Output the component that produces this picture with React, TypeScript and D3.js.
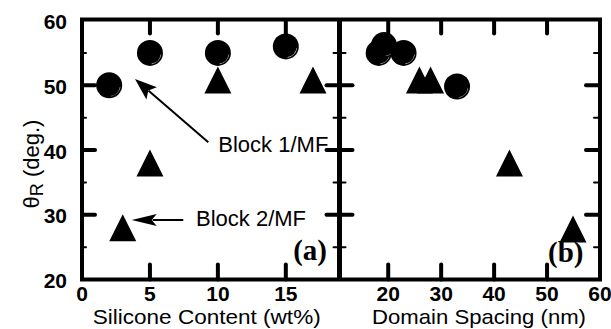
import React from "react";
import * as d3 from "d3";

// ---- data ----
const silCircleX = [2, 5, 10, 15];
const silCircleY = [50, 55, 55, 56];
const silTriX = [3, 5, 10, 17];
const silTriY = [28, 38, 50.8, 50.8];

const spCircleX = [18.2, 19.2, 22.9, 33];
const spCircleY = [55, 56.2, 55, 49.8];
const spTriX = [25.9, 28, 42.9, 54.9];
const spTriY = [50.8, 50.8, 38, 27.8];

const yMajor = [30, 40, 50];
const yMinor = [25, 35, 45, 55];
const yLabels = [20, 30, 40, 50, 60];
const aTicks = [5, 10, 15];
const aLabels = [0, 5, 10, 15];
const bTicks = [20, 30, 40, 50];
const bLabels = [20, 30, 40, 50, 60];

const W = 611, H = 329;
const LEFT = 82, MID = 339.5, RIGHT = 600, TOP = 20.5, BOTTOM = 279.5;

const y = d3.scaleLinear().domain([20, 60]).range([BOTTOM, TOP]);
const xa = d3.scaleLinear().domain([0, 18.95]).range([LEFT, MID]);
const xb = d3.scaleLinear().domain([10.8, 60]).range([MID, RIGHT]);

const sans = "'Liberation Sans', Arial, Helvetica, sans-serif";
const serif = "'Liberation Serif', 'Times New Roman', serif";

const R = 13;
const T = 27;
const triPath = (cx: number, cy: number) =>
  `M${cx},${cy - T / 2}L${cx + T / 2},${cy + T / 2}L${cx - T / 2},${cy + T / 2}Z`;

const Circle = ({ cx, cy }: { cx: number; cy: number }) => {
  const arc = d3.arc()({
    innerRadius: R - 2.2,
    outerRadius: R - 1.6,
    startAngle: Math.PI * 0.55,
    endAngle: Math.PI * 0.95,
  } as any) as string;
  return (
    <g>
      <circle cx={cx} cy={cy} r={R} fill="#000" />
      <path d={arc} transform={`translate(${cx},${cy})`} fill="#bbb" />
    </g>
  );
};

const MAJ = 13, MIN = 5;

function Arrow({ x1, y1, x2, y2, len, half }: { x1: number; y1: number; x2: number; y2: number; len: number; half: number }) {
  const ang = Math.atan2(y2 - y1, x2 - x1);
  const ux = Math.cos(ang), uy = Math.sin(ang);
  const bx = x2 - ux * len, by = y2 - uy * len;
  const px = -uy, py = ux;
  const head = `M${x2},${y2}L${bx + px * half},${by + py * half}L${x2 - ux * len * 0.8},${y2 - uy * len * 0.8}L${bx - px * half},${by - py * half}Z`;
  return (
    <g>
      <line x1={x1} y1={y1} x2={bx + ux * 4} y2={by + uy * 4} stroke="#000" strokeWidth={2} />
      <path d={head} fill="#000" />
    </g>
  );
}

export default function App() {
  const tickStyle = { stroke: "#000", strokeLinecap: "round" as const };
  return (
    <svg width={W} height={H} style={{ position: "absolute", left: 0, top: 0, background: "#fff" }}>
      <rect x={0} y={0} width={W} height={H} fill="#fff" />
      {/* data panel a */}
      {silCircleX.map((v, i) => <Circle key={"ac" + i} cx={xa(v)} cy={y(silCircleY[i])} />)}
      {silTriX.map((v, i) => <path key={"at" + i} d={triPath(xa(v), y(silTriY[i]))} fill="#000" />)}
      {/* data panel b */}
      {spCircleX.map((v, i) => <Circle key={"bc" + i} cx={xb(v)} cy={y(spCircleY[i])} />)}
      {spTriX.map((v, i) => <path key={"bt" + i} d={triPath(xb(v), y(spTriY[i]))} fill="#000" />)}

      {/* annotations */}
      <text x={218.3} y={152.3} fontFamily={sans} fontSize={22}>Block 1/MF</text>
      <text x={196} y={226} fontFamily={sans} fontSize={22}>Block 2/MF</text>
      <Arrow x1={208.3} y1={142.3} x2={135} y2={79} len={22} half={8} />
      <Arrow x1={183.3} y1={220} x2={131.7} y2={220} len={25} half={6} />
      <text x={327} y={260} textAnchor="end" fontFamily={serif} fontWeight="bold" fontSize={29}>(a)</text>
      <text x={583.5} y={262} textAnchor="end" fontFamily={serif} fontWeight="bold" fontSize={29}>(b)</text>

      {/* frames */}
      <rect x={LEFT} y={TOP - 1} width={RIGHT - LEFT} height={BOTTOM - TOP + 1} fill="none" stroke="#000" strokeWidth={4} />
      <line x1={MID} x2={MID} y1={TOP - 1} y2={BOTTOM} stroke="#000" strokeWidth={5} />

      {/* y ticks */}
      {yMajor.map((v) => (
        <g key={"ym" + v}>
          <line x1={LEFT} x2={LEFT + MAJ} y1={y(v)} y2={y(v)} {...tickStyle} strokeWidth={4} />
          <line x1={MID - MAJ} x2={MID + MAJ} y1={y(v)} y2={y(v)} {...tickStyle} strokeWidth={4} />
          <line x1={RIGHT - MAJ - 1} x2={RIGHT} y1={y(v)} y2={y(v)} {...tickStyle} strokeWidth={4} />
        </g>
      ))}
      {yMinor.map((v) => (
        <g key={"yn" + v}>
          <line x1={LEFT} x2={LEFT + MIN - 1} y1={y(v)} y2={y(v)} {...tickStyle} strokeWidth={2} />
          <line x1={MID - MIN - 1} x2={MID + MIN + 1} y1={y(v)} y2={y(v)} {...tickStyle} strokeWidth={2} />
          <line x1={RIGHT - MIN - 1} x2={RIGHT} y1={y(v)} y2={y(v)} {...tickStyle} strokeWidth={2} />
        </g>
      ))}
      {/* x ticks */}
      {aTicks.map((v) => (
        <g key={"xa" + v}>
          <line x1={xa(v)} x2={xa(v)} y1={BOTTOM} y2={BOTTOM - MAJ - 2} {...tickStyle} strokeWidth={4} />
          <line x1={xa(v)} x2={xa(v)} y1={TOP} y2={TOP + MAJ} {...tickStyle} strokeWidth={4} />
        </g>
      ))}
      {bTicks.map((v) => (
        <g key={"xb" + v}>
          <line x1={xb(v)} x2={xb(v)} y1={BOTTOM} y2={BOTTOM - MAJ - 2} {...tickStyle} strokeWidth={4} />
          <line x1={xb(v)} x2={xb(v)} y1={TOP} y2={TOP + MAJ} {...tickStyle} strokeWidth={4} />
        </g>
      ))}

      {/* tick labels */}
      {yLabels.map((v) => (
        <text key={"yl" + v} x={67} y={y(v) + 8.5} textAnchor="end" fontFamily={sans} fontWeight="bold" fontSize={21}>{v}</text>
      ))}
      {aLabels.map((v) => (
        <text key={"al" + v} x={xa(v)} y={301} textAnchor="middle" fontFamily={sans} fontWeight="bold" fontSize={21}>{v}</text>
      ))}
      {bLabels.map((v) => (
        <text key={"bl" + v} x={xb(v)} y={301} textAnchor="middle" fontFamily={sans} fontWeight="bold" fontSize={21}>{v}</text>
      ))}

      {/* axis titles */}
      <text x={206.7} y={324.3} textAnchor="middle" fontFamily={sans} fontSize={21} textLength={228} lengthAdjust="spacingAndGlyphs">Silicone Content (wt%)</text>
      <text x={479} y={324.3} textAnchor="middle" fontFamily={sans} fontSize={21} textLength={214} lengthAdjust="spacingAndGlyphs">Domain Spacing (nm)</text>
      <text transform="translate(39,164) rotate(-90)" textAnchor="middle" fontFamily={sans} fontSize={22}>
        θ<tspan fontSize={18} dy={4}>R</tspan><tspan dy={-4}> (deg.)</tspan>
      </text>
    </svg>
  );
}
